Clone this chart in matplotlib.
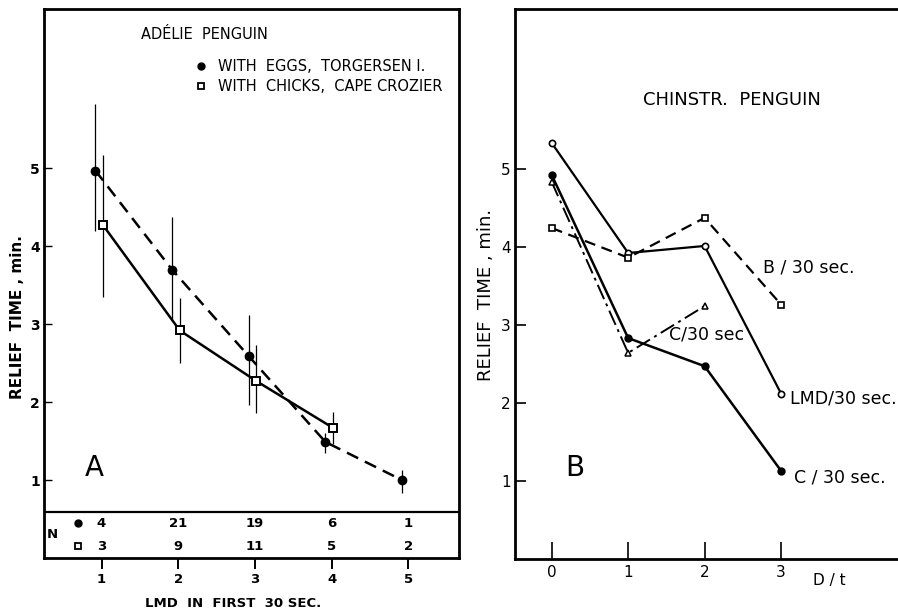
import numpy as np
import matplotlib
matplotlib.use('Agg')
import matplotlib.pyplot as plt

# Panel A: Adelie penguin
lmd = [1, 2, 3, 4, 5]
eggs_relief = [4.97, 3.70, 2.59, 1.49, 1.00]
eggs_lo = [4.20, 3.05, 1.97, 1.35, 0.83]
eggs_hi = [5.83, 4.38, 3.12, 1.60, 1.13]
chicks_lmd = [1, 2, 3, 4]
chicks_relief = [4.27, 2.92, 2.27, 1.67]
chicks_lo = [3.35, 2.50, 1.86, 1.46]
chicks_hi = [5.17, 3.33, 2.73, 1.88]
n_eggs = ['4', '21', '19', '6', '1']
n_chicks = ['3', '9', '11', '5', '2']

# Panel B: Chinstrap penguin
dt = [0, 1, 2, 3]
lmd_30 = [5.33, 3.92, 4.01, 2.12]
b_30 = [4.24, 3.86, 4.37, 3.26]
c_30 = [4.92, 2.83, 2.47, 1.13]
c_30_tri = [4.83, 2.64, 3.24]

plt.rcParams['font.family'] = 'DejaVu Sans'
fig = plt.figure(figsize=(8.98, 6.12), dpi=100)

# ---- panel A
ax = fig.add_axes([0.049, 0.088, 0.462, 0.897])
ax.set_xlim(0.25, 5.66)
ax.set_ylim(0, 7.04)

ex = np.array(lmd) - 0.08
cx = np.array(chicks_lmd) + 0.02
ax.vlines(ex, eggs_lo, eggs_hi, color='black', lw=0.9)
ax.vlines(cx, chicks_lo, chicks_hi, color='black', lw=0.9)
ax.plot(ex, eggs_relief, color='black', lw=1.8, ls=(0, (5, 3)))
ax.plot(cx, chicks_relief, color='black', lw=1.8)
ax.plot(ex, eggs_relief, 'o', color='black', ms=6, zorder=3)
ax.plot(cx, chicks_relief, 's', mfc='white', mec='black', mew=1.4, ms=5.5, zorder=3)

# N table under the plot
ax.axhline(0.59, color='black', lw=1.6)
for x, a, b in zip(lmd, n_eggs, n_chicks):
    ax.text(x, 0.45, a, ha='center', va='center', fontsize=9.5, fontweight='bold')
    ax.text(x, 0.15, b, ha='center', va='center', fontsize=9.5, fontweight='bold')
ax.text(0.36, 0.30, 'N', ha='center', va='center', fontsize=9.5, fontweight='bold')
ax.plot([0.69], [0.45], 'o', color='black', ms=5, clip_on=False)
ax.plot([0.69], [0.15], 's', mfc='white', mec='black', mew=1.3, ms=4.5, clip_on=False)

ax.text(1.52, 6.71, 'ADÉLIE  PENGUIN', fontsize=10.5, va='center')
ax.plot([2.3], [6.31], 'o', color='black', ms=5)
ax.plot([2.3], [6.05], 's', mfc='white', mec='black', mew=1.3, ms=4.5)
ax.text(2.52, 6.31, 'WITH  EGGS,  TORGERSEN I.', fontsize=10.5, va='center')
ax.text(2.52, 6.05, 'WITH  CHICKS,  CAPE CROZIER', fontsize=10.5, va='center')
ax.text(0.9, 1.15, 'A', fontsize=20, ha='center', va='center')

ax.set_xticks(lmd)
ax.set_xticklabels([str(v) for v in lmd], fontsize=9.5, fontweight='bold')
ax.set_yticks([1, 2, 3, 4, 5])
ax.set_yticklabels(['1', '2', '3', '4', '5'], fontsize=10, fontweight='bold')
ax.tick_params(axis='x', direction='out', length=8, width=1.4, pad=3)
ax.tick_params(axis='y', direction='in', length=6, width=1.0, pad=3)
ax.text(2.72, -0.58, 'LMD  IN  FIRST  30 SEC.', fontsize=9.5, fontweight='bold',
        ha='center', va='center')
ax.set_ylabel('RELIEF  TIME , min.', fontsize=11, fontweight='bold')
ax.yaxis.set_label_coords(-0.046, 0.44)
for s in ax.spines.values():
    s.set_linewidth(2.0)

# ---- panel B
bx = fig.add_axes([0.5735, 0.0866, 0.4265, 0.898])
bx.set_xlim(-0.48, 4.53)
bx.set_ylim(0, 7.04)

bx.plot(dt, lmd_30, '-o', color='black', lw=1.6, mfc='white', mec='black', mew=1.2, ms=4.5)
bx.plot(dt, b_30, 's', color='black', ls=(0, (5, 3)), lw=1.6, mfc='white', mec='black', mew=1.2, ms=4.5)
bx.plot(dt, c_30, '-o', color='black', lw=1.8, ms=5)
bx.plot(dt[:3], c_30_tri, '^', color='black', ls=(0, (8, 2.5, 1.5, 2.5)), lw=1.4,
        mfc='white', mec='black', mew=1.1, ms=4.5)

bx.text(1.19, 5.88, 'CHINSTR.  PENGUIN', fontsize=13, va='center')
bx.text(2.76, 3.74, 'B / 30 sec.', fontsize=12.5, va='center')
bx.text(1.54, 2.87, 'C/30 sec', fontsize=12.5, va='center')
bx.text(3.12, 2.06, 'LMD/30 sec.', fontsize=12.5, va='center')
bx.text(3.17, 1.04, 'C / 30 sec.', fontsize=12.5, va='center')
bx.text(0.3, 1.17, 'B', fontsize=20, ha='center', va='center')

bx.set_xticks(dt)
bx.set_xticklabels([str(v) for v in dt], fontsize=11)
bx.set_yticks([1, 2, 3, 4, 5])
bx.set_yticklabels(['1', '2', '3', '4', '5'], fontsize=11)
bx.tick_params(axis='x', direction='in', length=12, width=1.2, pad=4)
bx.tick_params(axis='y', direction='in', length=8, width=1.2, pad=3)
bx.text(3.42, -0.27, 'D / t', fontsize=11, va='center')
bx.set_ylabel('RELIEF  TIME , min.', fontsize=13)
bx.yaxis.set_label_coords(-0.052, 0.48)
bx.spines['right'].set_visible(False)
for s in ['left', 'top', 'bottom']:
    bx.spines[s].set_linewidth(2.0)

plt.savefig('out.png', dpi=100)
